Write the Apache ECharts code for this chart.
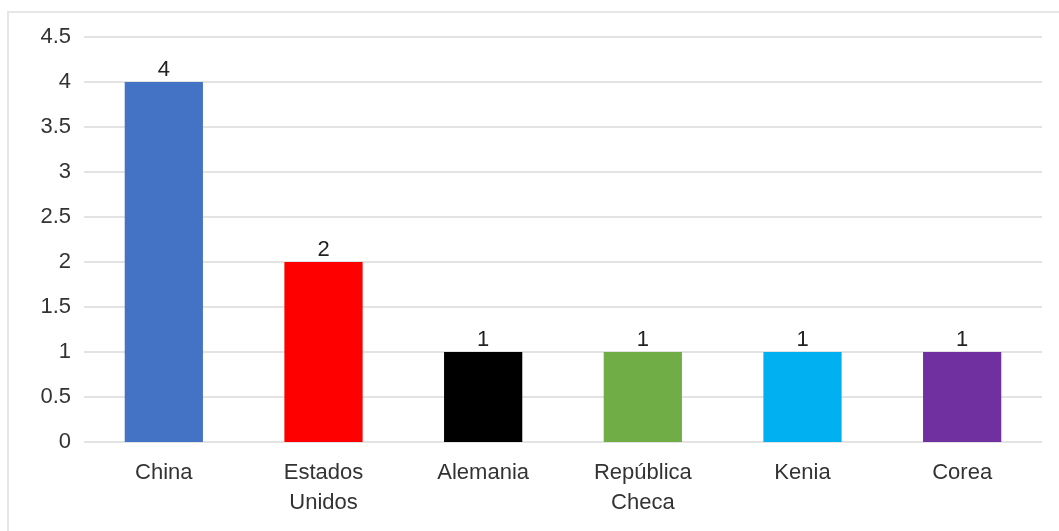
<!DOCTYPE html>
<html>
<head>
<meta charset="utf-8">
<script src="https://cdn.jsdelivr.net/npm/echarts@6/dist/echarts.min.js"></script>
<style>
html,body{margin:0;padding:0;background:#fff;}
#chart{width:1059px;height:531px;}
</style>
</head>
<body>
<div id="chart"></div>
<script>
const categories = ["China", "Estados Unidos", "Alemania", "República Checa", "Kenia", "Corea"];
const values = [4, 2, 1, 1, 1, 1];
const barColors = ["#4472C4", "#FF0000", "#000000", "#70AD47", "#00B0F0", "#7030A0"];

const chart = echarts.init(document.getElementById('chart'));
const font = '"Liberation Sans", Arial, sans-serif';
chart.setOption({
  animation: false,
  backgroundColor: '#fff',
  graphic: [{
    type: 'rect',
    shape: { x: 8, y: 12, width: 1200, height: 700 },
    style: { fill: 'none', stroke: '#e6e6e6', lineWidth: 2 },
    silent: true,
    z: -10
  }],
  grid: { left: 84, right: 17, top: 37, bottom: 89 },
  xAxis: {
    type: 'category',
    data: categories,
    axisLine: { show: false },
    axisTick: { show: false },
    axisLabel: {
      color: '#333',
      fontFamily: font,
      fontSize: 22,
      lineHeight: 30,
      margin: 16,
      interval: 0,
      formatter: v => v.replace(' ', '\n')
    }
  },
  yAxis: {
    type: 'value',
    min: 0,
    max: 4.5,
    interval: 0.5,
    axisLine: { show: false },
    axisTick: { show: false },
    axisLabel: { color: '#333', fontFamily: font, fontSize: 22, margin: 13, padding: [6, 0, 0, 0] },
    splitLine: { lineStyle: { color: '#e3e3e3', width: 2 } }
  },
  series: [{
    type: 'bar',
    data: values.map((v, i) => ({ value: v, itemStyle: { color: barColors[i] } })),
    barWidth: '49%',
    label: {
      show: true,
      position: 'top',
      distance: 1,
      color: '#222',
      fontFamily: font,
      fontSize: 22
    }
  }]
});
</script>
</body>
</html>
